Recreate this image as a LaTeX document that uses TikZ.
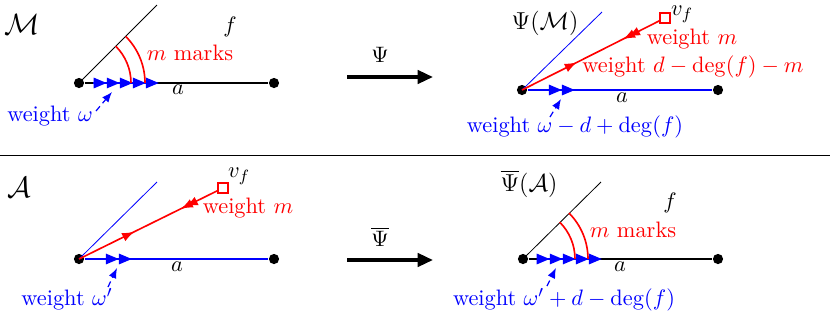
\documentclass[tikz,border=0pt,11pt]{standalone}
\usetikzlibrary{arrows.meta,decorations.markings}
\begin{document}
\begin{tikzpicture}[x=0.49pt,y=-0.49pt,
  vtx/.style={circle,fill=black,inner sep=0pt,minimum size=5pt},
  thickedge/.style={line width=1.1pt},
  thinedge/.style={line width=0.4pt},
  redline/.style={red,line width=0.8pt},
  redarc/.style={red,line width=0.8pt},
  wtri/.style={blue,line width=1.1pt},
  twotri/.style={-{Triangle[length=6.4pt,width=5pt]Triangle[length=6.4pt,width=5pt]}},
  fivetri/.style={-{Triangle[length=6.4pt,width=5pt]Triangle[length=6.4pt,width=5pt]Triangle[length=6.4pt,width=5pt]Triangle[length=6.4pt,width=5pt]Triangle[length=6.4pt,width=5pt]}},
  ptr/.style={blue,line width=0.6pt,dash pattern=on 3pt off 2pt,-{Latex[length=5pt,width=4pt]}},
  bigarrow/.style={line width=1.7pt,-{Triangle[length=7.5pt,width=6.5pt]}},
  sq/.style={draw=red,line width=0.8pt,minimum size=4.6pt,inner sep=0pt},
  big/.style={font=\Large},
  mid/.style={font=\large},
  redmarks/.style={postaction={decorate},decoration={markings,
     mark=at position 0.40 with {\arrow{Latex[length=6pt,width=4.5pt]}},
     mark=at position 0.77 with {\arrowreversed{Latex[length=6pt,width=4.5pt]}},
     mark=at position 0.735 with {\arrowreversed{Latex[length=6pt,width=4.5pt]}}}}
]
\useasboundingbox (0,0) rectangle (830,313);

% ---------- panel 1 : M ----------
\node[big] (M) at (22,24) {$\mathcal{M}$};
\node[vtx] (u1) at (79,83) {};
\node[vtx] (w1) at (274,83) {};
\coordinate (f1) at (157,5);
\draw[thinedge] (u1.center) -- (f1);
\draw[thickedge] (u1) -- (w1);
\coordinate (s1) at (93,83);
\coordinate (t1) at (159,83);
\draw[wtri,fivetri] (s1) -- (t1);
\draw[redarc] (u1.center) ++(52,0) arc[start angle=0,end angle=45,radius=25.5pt];
\draw[redarc] (u1.center) ++(66,0) arc[start angle=0,end angle=45,radius=32.3pt];
\node (f1l) at (230,27) {$f$};
\node[red] (mm1) at (190,53) {$m$ marks};
\node (a1) at (178,90) {$a$};
\node[blue] (wl1) at (50,116) {weight $\omega$};
\coordinate (q1s) at (96,111);
\coordinate (q1e) at (112,92);
\draw[ptr] (q1s) -- (q1e);

% ---------- top arrow ----------
\coordinate (A1s) at (347,77);
\coordinate (A1e) at (433,77);
\draw[bigarrow] (A1s) -- (A1e);
\node (psi1) at (380,55) {$\Psi$};

% ---------- panel 2 : Psi(M) ----------
\node[mid] (PM) at (545,23) {$\Psi(\mathcal{M})$};
\node[vtx] (u2) at (522,90) {};
\node[vtx] (w2) at (718,90) {};
\coordinate (f2) at (602,12);
\draw[blue,thinedge] (u2.center) -- (f2);
\draw[blue,thickedge] (u2) -- (w2);
\coordinate (s2) at (549,90);
\coordinate (t2) at (575,90);
\draw[wtri,twotri] (s2) -- (t2);
\node[sq] (vf2) at (665,18) {};
\node[inner sep=0pt] (vf2l) at (682,14) {$v_f$};
\draw[redline,redmarks] (u2.center) -- (vf2);
\node[red] (wm2) at (692,39) {weight $m$};
\node[red] (wd2) at (693,67) {weight $d-\deg(f)-m$};
\node (a2) at (622,98) {$a$};
\node[blue] (wl2) at (575,127) {weight $\omega-d+\deg(f)$};
\coordinate (q2s) at (550,117);
\coordinate (q2e) at (561,99);
\draw[ptr] (q2s) -- (q2e);

% ---------- separator ----------
\coordinate (L) at (0,155);
\coordinate (R) at (830,155);
\draw[thinedge] (L) -- (R);

% ---------- panel 3 : A ----------
\node[big] (A) at (19,187) {$\mathcal{A}$};
\node[vtx] (u3) at (79,259) {};
\node[vtx] (w3) at (274,259) {};
\coordinate (f3) at (157,182);
\draw[blue,thinedge] (u3.center) -- (f3);
\draw[blue,thickedge] (u3) -- (w3);
\coordinate (s3) at (105,259);
\coordinate (t3) at (132,259);
\draw[wtri,twotri] (s3) -- (t3);
\node[sq] (vf3) at (223,188) {};
\node (vf3l) at (239,176) {$v_f$};
\draw[redline,redmarks] (u3.center) -- (vf3);
\node[red] (wm3) at (248,208) {weight $m$};
\node (a3) at (177,267) {$a$};
\node[blue] (wl3) at (67,299) {weight $\omega'$};
\coordinate (q3s) at (108,287);
\coordinate (q3e) at (117,268);
\draw[ptr] (q3s) -- (q3e);

% ---------- bottom arrow ----------
\coordinate (A2s) at (347,260);
\coordinate (A2e) at (433,260);
\draw[bigarrow] (A2s) -- (A2e);
\node (psi2) at (380,237) {$\overline{\Psi}$};

% ---------- panel 4 : Psibar(A) ----------
\node[mid] (PA) at (529,184) {$\overline{\Psi}(\mathcal{A})$};
\node[vtx] (u4) at (523,259) {};
\node[vtx] (w4) at (718,259) {};
\coordinate (f4) at (601,182);
\draw[thinedge] (u4.center) -- (f4);
\draw[thickedge] (u4) -- (w4);
\coordinate (s4) at (537,259);
\coordinate (t4) at (602,259);
\draw[wtri,fivetri] (s4) -- (t4);
\draw[redarc] (u4.center) ++(52,0) arc[start angle=0,end angle=45,radius=25.5pt];
\draw[redarc] (u4.center) ++(65,0) arc[start angle=0,end angle=45,radius=31.85pt];
\node (f4l) at (670,203) {$f$};
\node[red] (mm4) at (633,230) {$m$ marks};
\node (a4) at (620,267) {$a$};
\node[blue] (wl4) at (564,300) {weight $\omega'+d-\deg(f)$};
\coordinate (q4s) at (547,286);
\coordinate (q4e) at (556,268);
\draw[ptr] (q4s) -- (q4e);
\end{tikzpicture}
\end{document}
